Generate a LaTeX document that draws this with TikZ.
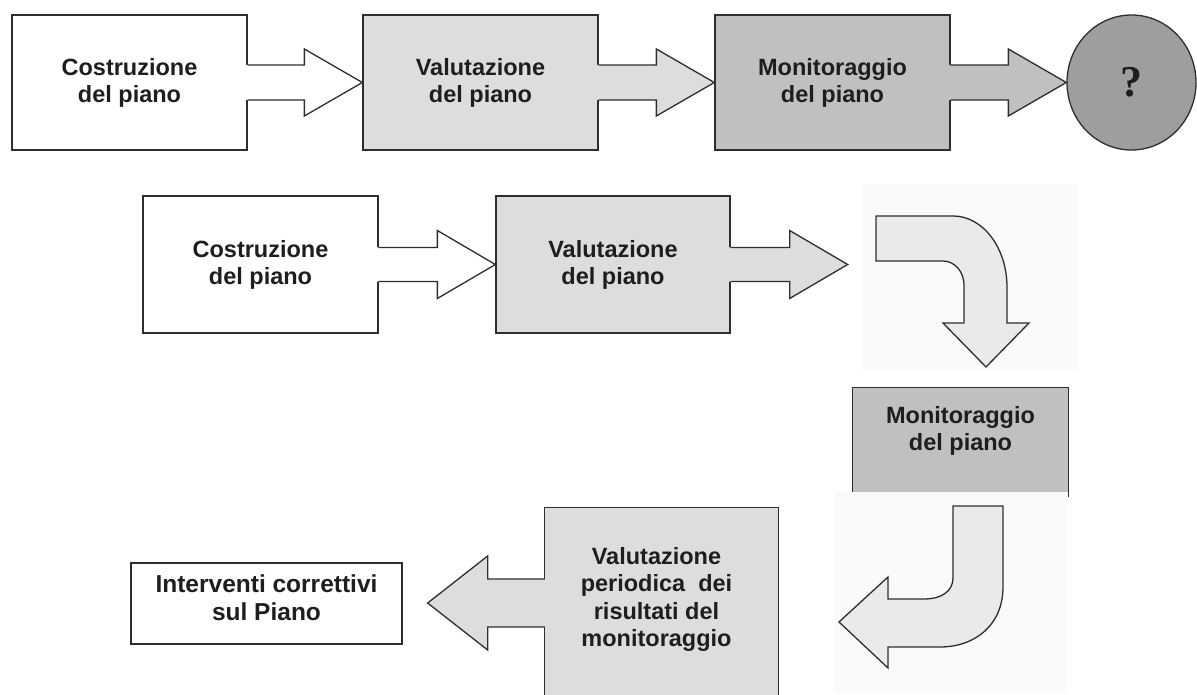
\documentclass[tikz,border=0pt]{standalone}
\usepackage{fontspec}
\setmainfont{Liberation Sans}
\newfontfamily\qfont{Liberation Serif}
\usetikzlibrary{calc,shapes.geometric}
\definecolor{lineC}{HTML}{2E2E2E}
\definecolor{fillA}{HTML}{DDDDDD}
\definecolor{fillB}{HTML}{C0C0C0}
\definecolor{fillC}{HTML}{9E9E9E}
\definecolor{fillD}{HTML}{EAEAEA}
\definecolor{bgC}{HTML}{FAFAFA}
\definecolor{txtC}{HTML}{1E1E1E}
\tikzset{
  outl/.style={draw=lineC, line width=1.3pt},
  boxnode/.style={rectangle, inner sep=0pt, align=center, text=txtC,
    font=\fontsize{23.5}{27}\selectfont\bfseries},
}
% right-pointing block arrow: start, tip, fill, shaft half, head half
\newcommand\rarrow[5]{%
  \path[fill=#3] let \p1=#1, \p2=#2 in
    (\x1-2pt,\y1+#4pt) -- (\x2-58pt,\y1+#4pt) -- (\x2-58pt,\y1+#5pt) -- (\x2,\y1)
    -- (\x2-58pt,\y1-#5pt) -- (\x2-58pt,\y1-#4pt) -- (\x1-2pt,\y1-#4pt) -- cycle;
  \draw[outl] let \p1=#1, \p2=#2 in
    (\x1,\y1+#4pt) -- (\x2-58pt,\y1+#4pt) -- (\x2-58pt,\y1+#5pt) -- (\x2,\y1)
    -- (\x2-58pt,\y1-#5pt) -- (\x2-58pt,\y1-#4pt) -- (\x1,\y1-#4pt);
}
\begin{document}
\begin{tikzpicture}[x=1pt,y=-1pt]
\useasboundingbox (0,0) rectangle (1197,695);
\fill[white] (0,0) rectangle (1197,695);
% faint backgrounds of the curved arrows
\fill[bgC] (862,185) rectangle (1078,370);
\fill[bgC] (835,492) rectangle (1067,693);

% ---- top row
\node[boxnode, outl, fill=white, minimum width=235pt, minimum height=135pt] (c1) at (129.5,82.5) {Costruzione\\del piano};
\node[boxnode, outl, fill=fillA, minimum width=235pt, minimum height=135pt] (v1) at (480.5,82.5) {Valutazione\\del piano};
\node[boxnode, outl, fill=fillB, minimum width=235pt, minimum height=135pt] (m1) at (832.5,82.5) {Monitoraggio\\del piano};
\node[ellipse, outl, fill=fillC, minimum width=129pt, minimum height=135pt, inner sep=0pt, text=txtC,
  font=\qfont\bfseries\fontsize{44}{44}\selectfont] (q) at (1131.5,82.5) {?};
\rarrow{(c1.east)}{(v1.west)}{white}{17.5}{33.5}
\rarrow{(v1.east)}{(m1.west)}{fillA}{17.5}{33.5}
\rarrow{(m1.east)}{(q.west)}{fillB}{17.5}{33.5}

% ---- second row
\node[boxnode, outl, fill=white, minimum width=235pt, minimum height=137pt] (c2) at (260.5,264.5) {Costruzione\\del piano};
\node[boxnode, outl, fill=fillA, minimum width=234pt, minimum height=137pt] (v2) at (613,264.5) {Valutazione\\del piano};
\coordinate (v2tip) at ($(v2.east)+(117,0)$);
\rarrow{(c2.east)}{(c2.east -| v2.west)}{white}{17}{34}
\rarrow{(v2.east)}{(v2tip)}{fillA}{17}{34}

% curved arrow down to the monitoring box
\draw[outl, fill=fillD] (876,216) -- (953,216) .. controls (983,216) and (1007,248) .. (1007,287)
  -- (1007,323) -- (1029,323) -- (986,367) -- (943,323) -- (964,323) -- (964,285)
  .. controls (964,272) and (955,261) .. (943,261) -- (876,261) -- cycle;

% ---- monitoring box (right)
\node[boxnode, fill=fillB, minimum width=215pt, minimum height=104pt] (m3) at (960.5,440) {};
\draw[outl] (m3.south west) -- (m3.north west) -- (m3.north east) -- ([yshift=-5pt]m3.south east);
\node[boxnode] (m3t) at ([yshift=9pt]m3.center) {Monitoraggio\\del piano};

% curved arrow down-left
\draw[outl, fill=fillD] (953,506) -- (1003,506) -- (1003,587) .. controls (1003,625) and (975,647) .. (940,647)
  -- (888,647) -- (888,668) -- (839,622) -- (888,577) -- (888,599) -- (925,599)
  .. controls (940,599) and (953,592) .. (953,578) -- cycle;

% ---- bottom row
\node[boxnode, fill=fillA, minimum width=233pt, minimum height=187pt] (p) at (661.5,601.5) {};
\draw[outl] (p.south west) -- (p.north west) -- (p.north east) -- (p.south east);
\node[boxnode, font=\fontsize{23.5}{27.5}\selectfont\bfseries] (pt) at ([xshift=-5pt,yshift=2pt]p.center)
  {Valutazione\\periodica\ \ dei\\risultati del\\monitoraggio};
\node[boxnode, outl, fill=white, minimum width=271pt, minimum height=81pt] (iv) at (266.5,603.5) {};
\node[boxnode, font=\fontsize{24.5}{28}\selectfont\bfseries] (ivt) at ([yshift=6pt]iv.center) {Interventi correttivi\\sul Piano};
\coordinate (ivtip) at ($(iv.east)+(25,0)$);
\path[fill=fillA] let \p1=([yshift=-1.5pt]p.west), \p2=(ivtip) in
  (\x1+2pt,\y1+24pt) -- (\x2+60pt,\y1+24pt) -- (\x2+60pt,\y1+47pt) -- (\x2,\y1)
  -- (\x2+60pt,\y1-47pt) -- (\x2+60pt,\y1-24pt) -- (\x1+2pt,\y1-24pt) -- cycle;
\draw[outl] let \p1=([yshift=-1.5pt]p.west), \p2=(ivtip) in
  (\x1,\y1+24pt) -- (\x2+60pt,\y1+24pt) -- (\x2+60pt,\y1+47pt) -- (\x2,\y1)
  -- (\x2+60pt,\y1-47pt) -- (\x2+60pt,\y1-24pt) -- (\x1,\y1-24pt);
\end{tikzpicture}
\end{document}
